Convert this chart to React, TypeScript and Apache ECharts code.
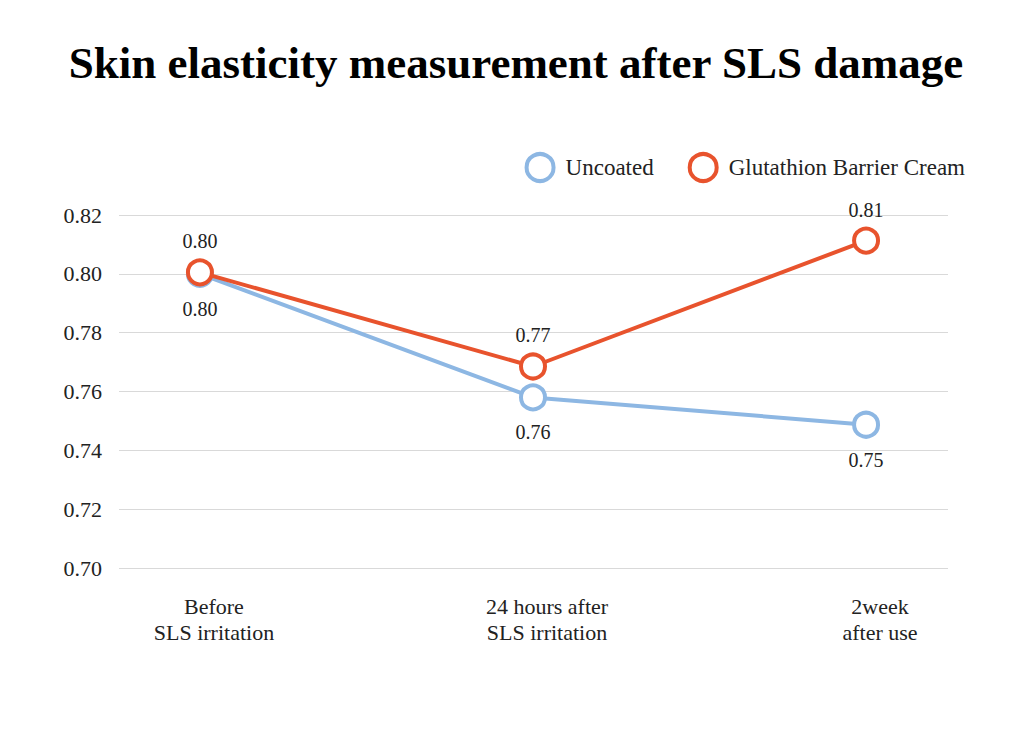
import React, { useEffect, useRef } from "react";
import * as echarts from "echarts";

const TITLE = "Skin elasticity measurement after SLS damage";
const categories = ["Before\nSLS irritation", "24 hours after\nSLS irritation", "2week\nafter use"];
const seriesNames = ["Uncoated", "Glutathion Barrier Cream"];
const uncoated = [0.8, 0.758, 0.7487];
const glutathion = [0.8005, 0.7685, 0.8113];
const yTicks = [0.7, 0.72, 0.74, 0.76, 0.78, 0.8, 0.82];
const colors = ["#8DB7E3", "#E8532D"];

const SERIF = "'Liberation Serif', 'Times New Roman', serif";

export default function App() {
  const ref = useRef<HTMLDivElement>(null);
  useEffect(() => {
    if (!ref.current) return;
    const chart = echarts.init(ref.current, undefined, { renderer: "svg" });
    const mk = (vals: number[]) => vals.map((v, i) => [i, v]);
    const allSeries = [uncoated, glutathion];
    chart.setOption({
      animation: false,
      backgroundColor: "#ffffff",
      textStyle: { fontFamily: SERIF },
      title: {
        text: TITLE,
        left: "center",
        top: 35,
        textStyle: {
          fontFamily: SERIF,
          fontWeight: "bold",
          fontSize: 45,
          color: "#000000",
        },
      },
      legend: {
        right: 62,
        top: 147,
        itemWidth: 27,
        itemHeight: 27,
        itemGap: 34,
        textStyle: { fontFamily: SERIF, fontSize: 23, color: "#222222", padding: [0, 0, 0, 7] },
        data: seriesNames.map((n, i) => ({
          name: n,
          icon: "circle",
          itemStyle: { color: "#ffffff", borderColor: colors[i], borderWidth: 4 },
        })),
      },
      grid: { left: 119, right: 84, top: 215, bottom: 180, containLabel: false },
      xAxis: {
        type: "value",
        min: -0.243,
        max: 2.246,
        splitLine: { show: false },
        axisLine: { show: false },
        axisTick: { show: false },
        axisLabel: {
          customValues: categories.map((_, i) => i),
          formatter: (v: number) => categories[Math.round(v)] ?? "",
          fontFamily: SERIF,
          fontSize: 22,
          color: "#222222",
          lineHeight: 26,
          margin: 25,
          padding: [0, 0, 0, 28],
        },
      },
      yAxis: {
        type: "value",
        min: yTicks[0],
        max: yTicks[yTicks.length - 1],
        interval: 0.02,
        axisLine: { show: false },
        axisTick: { show: false },
        splitLine: { lineStyle: { color: "#d9d9d9", width: 1 } },
        axisLabel: {
          formatter: (v: number) => v.toFixed(2),
          fontFamily: SERIF,
          fontSize: 22,
          color: "#222222",
          margin: 17,
        },
      },
      series: allSeries.map((vals, i) => ({
        name: seriesNames[i],
        type: "line",
        data: mk(vals),
        symbol: "circle",
        symbolSize: 24,
        lineStyle: { color: colors[i], width: 4 },
        itemStyle: { color: "#ffffff", borderColor: colors[i], borderWidth: 4 },
        label: {
          show: true,
          position: i === 0 ? "bottom" : "top",
          distance: i === 0 ? 11 : 7,
          formatter: (p: any) => p.value[1].toFixed(2),
          fontFamily: SERIF,
          fontSize: 20,
          color: "#222222",
        },
        emphasis: { disabled: true },
        z: 2 + i,
      })),
    });
    return () => chart.dispose();
  }, []);
  return (
    <div
      ref={ref}
      style={{ position: "fixed", left: 0, top: 0, width: 1032, height: 748, background: "#fff" }}
    />
  );
}
